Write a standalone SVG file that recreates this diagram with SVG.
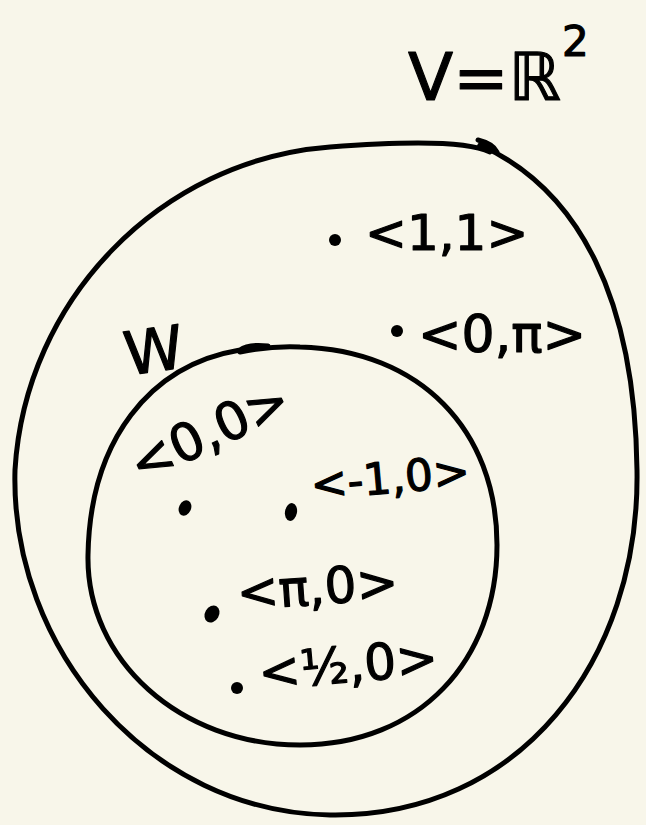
<svg xmlns="http://www.w3.org/2000/svg" width="646" height="825" viewBox="0 0 646 825">
<style>
.ln{fill:none;stroke:#000;stroke-width:5;stroke-linecap:round;stroke-linejoin:round}
.t{font-family:"DejaVu Sans","Noto Sans",sans-serif;fill:#000;stroke:#000;stroke-width:1.2;stroke-linejoin:round}
.dot{fill:#000}
</style>
<rect width="646" height="825" fill="#f8f6ea"/>
<g id="connectors"></g>
<g id="V">
<path class="ln" d="M 490,152 C 470,142 420,140 330,147 C 160,160 25,300 15,470 C 10,650 150,812 330,815 C 520,818 640,660 637,470 C 635,300 580,190 480,145 M 478,140 C 486,142 494,146 497,152"/>
<text class="t" x="408" y="100" font-size="66">V=ℝ</text>
<text class="t" x="562" y="56" font-size="42">2</text>
</g>
<g id="W">
<path class="ln" d="M 268,346 C 250,344 244,347 240,350 C 150,365 90,440 88,555 C 86,660 180,745 300,745 C 420,745 497,660 497,545 C 497,430 420,350 300,347 C 280,346 260,348 240,352"/>
<text class="t" x="124" y="372" font-size="60" transform="rotate(-8 150 350)">W</text>
</g>
<g id="p11">
<circle class="dot" cx="335" cy="240" r="6"/>
<text class="t" x="365" y="250" font-size="50">&lt;1,1&gt;</text>
</g>
<g id="p0pi">
<circle class="dot" cx="397" cy="331" r="6"/>
<text class="t" x="418" y="352" font-size="52">&lt;0,π&gt;</text>
</g>
<g id="p00">
<ellipse class="dot" cx="185" cy="508" rx="6" ry="8" transform="rotate(25 185 508)"/>
<text class="t" x="140" y="484" font-size="52" transform="rotate(-25 140 484)">&lt;0,0&gt;</text>
</g>
<g id="pm10">
<ellipse class="dot" cx="291" cy="512" rx="6" ry="9" transform="rotate(10 291 512)"/>
<text class="t" x="312" y="500" font-size="44" transform="rotate(-5 312 500)">&lt;-1,0&gt;</text>
</g>
<g id="ppi0">
<ellipse class="dot" cx="212" cy="614" rx="7" ry="9" transform="rotate(30 212 614)"/>
<text class="t" x="238" y="610" font-size="50" transform="rotate(-4 238 610)">&lt;π,0&gt;</text>
</g>
<g id="phalf0">
<circle class="dot" cx="237" cy="688" r="6"/>
<text class="t" x="260" y="690" font-size="50" transform="rotate(-5 260 690)">&lt;½,0&gt;</text>
</g>
</svg>
